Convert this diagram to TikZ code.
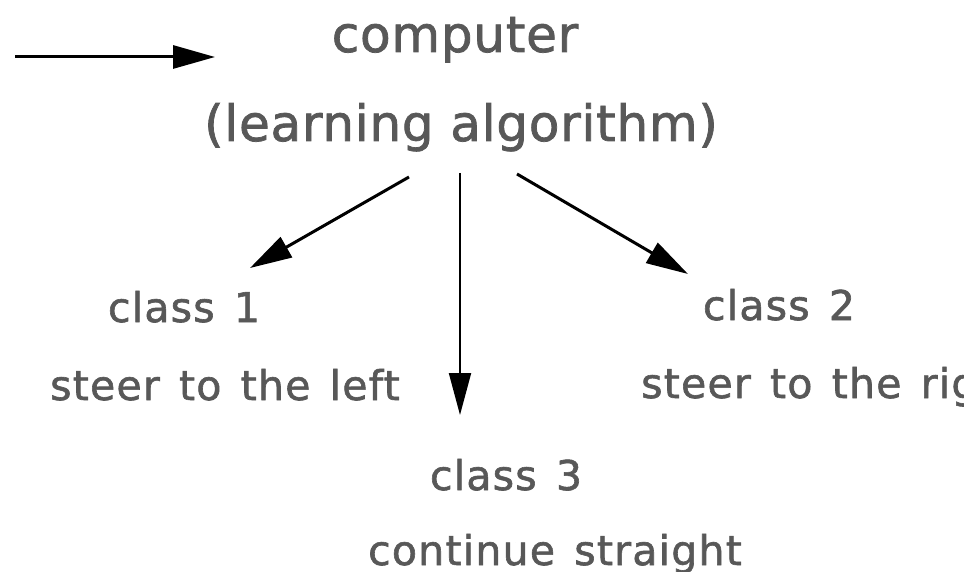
\documentclass[tikz,border=0pt]{standalone}
\usepackage{fontspec}
\usetikzlibrary{arrows.meta}
\newfontfamily\bigfont[LetterSpace=1.5,FakeBold=1.5]{DejaVu Sans}
\newfontfamily\smallfont[LetterSpace=3.0,WordSpace=1.35,FakeBold=1.5]{DejaVu Sans}
\definecolor{txtgray}{RGB}{88,88,88}
\tikzset{
  bigtxt/.style={inner sep=0pt, anchor=base, text=txtgray, font=\bigfont\fontsize{50}{58}\selectfont},
  smalltxt/.style={inner sep=0pt, anchor=base, text=txtgray, font=\smallfont\fontsize{41}{48}\selectfont},
  arr/.style={draw=black, line width=3pt, -{Triangle[length=42pt,width=23pt]}},
  varr/.style={draw=black, line width=2pt, -{Triangle[length=42pt,width=22pt]}}
}
\begin{document}
\begin{tikzpicture}[x=1pt,y=-1pt]
\useasboundingbox (0,0) rectangle (964,572);
\clip (0,0) rectangle (964,572);
\node[bigtxt] (comp) at (455,52) {computer};
\node[bigtxt] (alg) at (461,141) {(learning algorithm)};
\node[smalltxt] (c1) at (184,322) {class 1};
\node[smalltxt] (s1) at (225,400) {steer to the left};
\node[smalltxt] (c2) at (779,320) {class 2};
\node[smalltxt, anchor=base west] (s2) at (641,398) {steer to the right};
\node[smalltxt] (c3) at (506,490) {class 3};
\node[smalltxt] (s3) at (555,565) {continue straight};
\coordinate (inS) at (15,57);
\coordinate (inE) at (215,57);
\coordinate (lS) at (409,177);
\coordinate (lE) at (250,268);
\coordinate (mS) at (460,173);
\coordinate (mE) at (460,415);
\coordinate (rS) at (517,174);
\coordinate (rE) at (688,274);
\draw[arr] (inS) -- (inE);
\draw[arr] (lS) -- (lE);
\draw[varr] (mS) -- (mE);
\draw[arr] (rS) -- (rE);
\end{tikzpicture}
\end{document}
